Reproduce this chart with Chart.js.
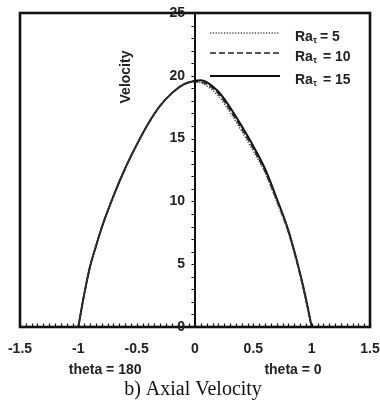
<!DOCTYPE html>
<html>
<head>
<meta charset="utf-8">
<script src="https://cdn.jsdelivr.net/npm/chart.js@4"></script>
<style>
  body { margin: 0; background: #fff; }
  #wrap { width: 380px; height: 403px; }
</style>
</head>
<body>
<div id="wrap"><canvas id="velChart" width="380" height="403"></canvas></div>
<script>
  // position across the duct (theta = 180 on the left, theta = 0 on the right)
  const posX = [-1, -0.95, -0.9, -0.85, -0.8, -0.7, -0.6, -0.5, -0.4, -0.3, -0.2, -0.1, 0, 0.05,
    0.1, 0.2, 0.3, 0.4, 0.5, 0.6, 0.7, 0.8, 0.9, 0.95, 1];

  const velRa5 = [0, 2.6, 4.8, 6.4, 7.9, 10.4, 12.6, 14.5, 16.2, 17.6, 18.6, 19.3, 19.5, 19.45,
    19.2, 18.4, 17.1, 15.6, 14.0, 12.3, 10.0, 7.5, 4.2, 2.1, 0];
  const velRa10 = [0, 2.6, 4.8, 6.4, 7.9, 10.4, 12.6, 14.5, 16.2, 17.6, 18.6, 19.3, 19.55, 19.5,
    19.35, 18.6, 17.3, 15.8, 14.2, 12.4, 10.1, 7.6, 4.2, 2.2, 0];
  const velRa15 = [0, 2.6, 4.8, 6.4, 7.9, 10.4, 12.6, 14.5, 16.2, 17.6, 18.6, 19.3, 19.6, 19.65,
    19.5, 18.75, 17.5, 16.0, 14.4, 12.6, 10.25, 7.7, 4.3, 2.3, 0];

  const xTicks = [-1.5, -1, -0.5, 0, 0.5, 1, 1.5];
  const yTicks = [0, 5, 10, 15, 20, 25];
  const legendNums = ['5', '10', '15'];

  const toPoints = (ys) => posX.map((x, i) => ({ x: x, y: ys[i] }));

  const lineStyle = (data, dash, width, color) => ({
    data: toPoints(data),
    showLine: true,
    borderColor: color,
    borderWidth: width,
    borderDash: dash,
    pointRadius: 0,
    cubicInterpolationMode: 'monotone',
    fill: false
  });

  const datasets = [
    lineStyle(velRa5, [1.2, 1.6], 1.6, '#444'),
    lineStyle(velRa10, [6, 3], 1.6, '#222'),
    lineStyle(velRa15, [], 2, '#111')
  ];

  const bold = (s) => 'bold ' + s + 'px "Liberation Sans", Arial, sans-serif';

  // frame, inward ticks, centre axis, labels and legend
  const decor = {
    id: 'decor',
    afterDraw(chart) {
      const { ctx, chartArea: a, scales: { x, y } } = chart;
      const x0 = x.getPixelForValue(0);
      ctx.save();
      ctx.strokeStyle = '#111';

      ctx.lineWidth = 1.2;
      ctx.beginPath();
      for (let i = 0; i <= 60; i++) {
        const px = Math.round(x.getPixelForValue(-1.5 + i * 0.05)) + 0.5;
        ctx.moveTo(px, a.bottom);
        ctx.lineTo(px, a.bottom - 3.5);
      }
      for (let v = 0; v <= 25; v++) {
        const py = Math.round(y.getPixelForValue(v)) + 0.5;
        ctx.moveTo(x0 - 3.5, py);
        ctx.lineTo(x0, py);
      }
      ctx.stroke();

      ctx.lineWidth = 2;
      ctx.beginPath();
      ctx.moveTo(x0, a.top);
      ctx.lineTo(x0, a.bottom);
      ctx.stroke();

      ctx.lineWidth = 2.6;
      ctx.strokeRect(a.left, a.top, a.right - a.left, a.bottom - a.top);

      ctx.fillStyle = '#222';
      ctx.font = bold(14);
      ctx.textBaseline = 'middle';

      // y tick labels sit left of the centre axis
      ctx.textAlign = 'right';
      yTicks.forEach(v => ctx.fillText(String(v), x0 - 10, y.getPixelForValue(v)));

      ctx.textAlign = 'center';
      ctx.fillText('theta = 180', x.getPixelForValue(-0.77), 370);
      ctx.fillText('theta = 0', x.getPixelForValue(0.84), 370);

      ctx.save();
      ctx.translate(126, 77);
      ctx.rotate(-Math.PI / 2);
      ctx.fillText('Velocity', 0, 0);
      ctx.restore();

      ctx.fillStyle = '#111';
      ctx.font = '20px "Liberation Serif", "Times New Roman", serif';
      ctx.fillText('b) Axial Velocity', 193, 390);

      // legend
      const rows = [35, 55, 78];
      ctx.textAlign = 'left';
      chart.data.datasets.forEach((ds, i) => {
        ctx.strokeStyle = ds.borderColor;
        ctx.lineWidth = ds.borderWidth;
        ctx.setLineDash(ds.borderDash);
        ctx.beginPath();
        ctx.moveTo(210, rows[i] - 2);
        ctx.lineTo(280, rows[i] - 2);
        ctx.stroke();
        ctx.setLineDash([]);
        ctx.fillStyle = '#222';
        ctx.font = bold(14);
        let tx = 295;
        const ty = rows[i] + 2;
        ctx.fillText('Ra', tx, ty);
        tx += ctx.measureText('Ra').width;
        ctx.font = bold(9);
        ctx.fillText('\u03c4', tx, ty + 4);
        tx += ctx.measureText('\u03c4').width + (i === 0 ? 3 : 6);
        ctx.font = bold(14);
        ctx.fillText('= ' + legendNums[i], tx, ty);
      });
      ctx.restore();
    }
  };

  const config = {
    type: 'scatter',
    data: { datasets: datasets },
    options: {
      responsive: false,
      devicePixelRatio: 1,
      animation: false,
      layout: { padding: { left: 20, right: 10, top: 13, bottom: 0 } },
      plugins: { legend: { display: false }, tooltip: { enabled: false } },
      scales: {
        x: {
          type: 'linear',
          min: -1.5,
          max: 1.5,
          afterFit: (s) => { s.height = 76; s.paddingLeft = 0; s.paddingRight = 0; },
          afterBuildTicks: (s) => { s.ticks = xTicks.map(v => ({ value: v })); },
          grid: { display: false, drawTicks: false },
          border: { display: false },
          ticks: {
            padding: 14,
            color: '#222',
            font: { family: '"Liberation Sans", Arial, sans-serif', size: 14, weight: 'bold' },
            callback: (v) => String(v)
          }
        },
        y: {
          type: 'linear',
          position: { x: 0 },
          min: 0,
          max: 25,
          afterFit: (s) => { s.width = 0; s.paddingTop = 0; s.paddingBottom = 0; },
          grid: { display: false, drawTicks: false },
          border: { display: false },
          ticks: { display: false }
        }
      }
    },
    plugins: [decor]
  };

  const velChart = new Chart(document.getElementById('velChart'), config);
</script>
</body>
</html>
